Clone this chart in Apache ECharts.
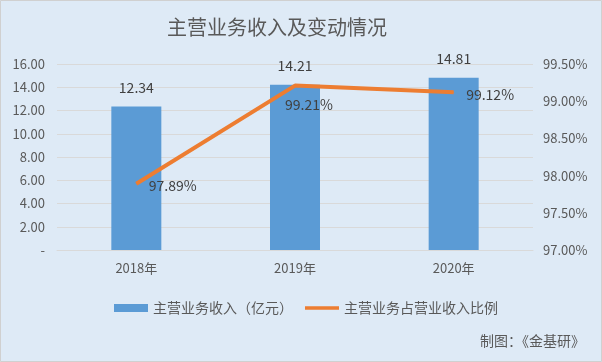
<!DOCTYPE html>
<html><head><meta charset="utf-8">
<script src="https://cdn.jsdelivr.net/npm/echarts@6/dist/echarts.min.js"></script>
<style>html,body{margin:0;padding:0;background:#fff}#c{width:602px;height:362px}</style>
</head><body><div id="c"></div>
<script>
const categories = ['2018年', '2019年', '2020年'];
const revenue = [12.34, 14.21, 14.81];
const ratio = [97.89, 99.21, 99.12];
const leftTicks = ['-', '2.00', '4.00', '6.00', '8.00', '10.00', '12.00', '14.00', '16.00'];
const title = '主营业务收入及变动情况';
const seriesNames = ['主营业务收入（亿元）', '主营业务占营业收入比例'];
const sourceText = '制图：《金基研》';

const font = '"Noto Sans CJK SC", "Microsoft YaHei", sans-serif';
const labelPos = [['right', [0, 2]], ['bottom', [14, 0]], ['right', [0, 2]]];
const chart = echarts.init(document.getElementById('c'), null, {renderer: 'canvas'});
chart.setOption({
  backgroundColor: '#DEEAF6',
  animation: false,
  textStyle: {fontFamily: font},
  title: {text: title, left: 162, top: 12,
    textStyle: {fontSize: 20, fontWeight: 'normal', color: '#595959', fontFamily: font}},
  graphic: [
    {type: 'rect', shape: {x: 0.5, y: 0.5, width: 601, height: 361},
     style: {fill: 'none', stroke: '#D0D0D0', lineWidth: 1}, silent: true},
    {type: 'text', right: 17, top: 334,
     style: {text: sourceText, fontSize: 14, fill: '#595959', fontFamily: font}}
  ],
  legend: {
    top: 296, left: 109, itemGap: 12, itemWidth: 34, itemHeight: 8,
    textStyle: {fontSize: 14, color: '#595959', fontFamily: font},
    data: [
      {name: seriesNames[0], icon: 'rect'},
      {name: seriesNames[1], icon: 'path://M0,0 L40,0 L40,4 L0,4 Z'}
    ]
  },
  grid: {left: 57, right: 69, top: 64, bottom: 112, containLabel: false},
  xAxis: {
    type: 'category', data: categories,
    axisLine: {lineStyle: {color: '#D9D9D9'}},
    axisTick: {show: false},
    axisLabel: {color: '#595959', fontSize: 13, margin: 12, fontFamily: font}
  },
  yAxis: [
    {type: 'value', min: 0, max: 16, interval: 2,
     axisLine: {show: false}, axisTick: {show: false},
     splitLine: {lineStyle: {color: '#D9D9D9'}},
     axisLabel: {color: '#595959', fontSize: 13, margin: 12, fontFamily: font,
       formatter: v => leftTicks[Math.round(v / 2)]}},
    {type: 'value', min: 97, max: 99.5, interval: 0.5,
     axisLine: {show: false}, axisTick: {show: false}, splitLine: {show: false},
     axisLabel: {color: '#595959', fontSize: 13, margin: 10, fontFamily: font,
       formatter: v => v.toFixed(2) + '%'}}
  ],
  series: [
    {name: seriesNames[0], type: 'bar', data: revenue, barWidth: 50,
     itemStyle: {color: '#5B9BD5'},
     label: {show: true, position: 'top', distance: 12, color: '#404040', fontSize: 14,
       fontFamily: font, formatter: p => p.value.toFixed(2)}},
    {name: seriesNames[1], type: 'line', yAxisIndex: 1,
     data: ratio.map((v, i) => ({value: v, label: {position: labelPos[i][0], offset: labelPos[i][1]}})),
     symbol: 'circle', symbolSize: 1, showSymbol: true,
     lineStyle: {color: '#ED7D31', width: 4}, itemStyle: {color: '#ED7D31'},
     label: {show: true, distance: 12, color: '#404040', fontSize: 14,
       fontFamily: font, formatter: p => p.value.toFixed(2) + '%'}}
  ]
});
</script></body></html>
